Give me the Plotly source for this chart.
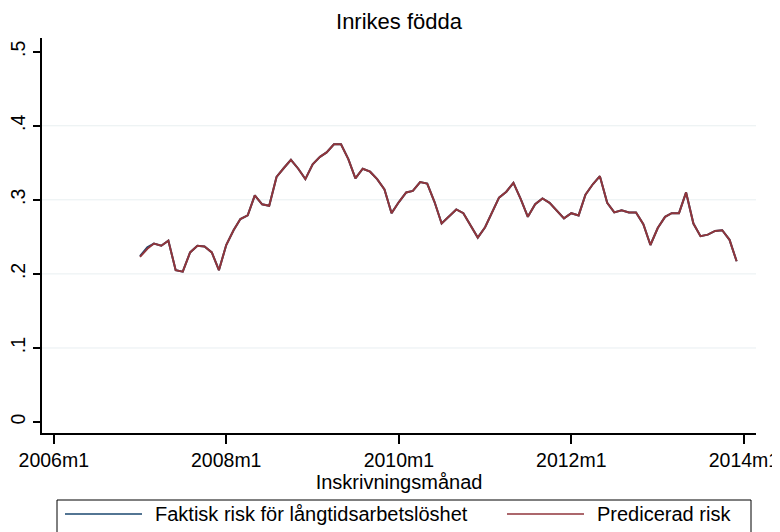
import pandas as pd
import plotly.graph_objects as go

# Monthly data, 2007m1 .. 2013m12
months = pd.date_range("2007-01-01", periods=84, freq="MS")

predicerad = [
    0.223, 0.234, 0.241, 0.238, 0.245, 0.205, 0.203, 0.229, 0.238, 0.237, 0.229, 0.205,
    0.239, 0.259, 0.274, 0.279, 0.306, 0.294, 0.292, 0.331, 0.343, 0.354, 0.342, 0.328,
    0.348, 0.358, 0.364, 0.375, 0.375, 0.355, 0.329, 0.342, 0.338, 0.328, 0.314, 0.282,
    0.297, 0.310, 0.312, 0.324, 0.322, 0.297, 0.268, 0.277, 0.287, 0.282, 0.266, 0.249,
    0.263, 0.285, 0.303, 0.311, 0.323, 0.301, 0.277, 0.294, 0.302, 0.296, 0.286, 0.275,
    0.282, 0.279, 0.307, 0.321, 0.332, 0.296, 0.283, 0.286, 0.283, 0.283, 0.267, 0.239,
    0.262, 0.277, 0.282, 0.282, 0.310, 0.268, 0.251, 0.253, 0.258, 0.259, 0.246, 0.217,
]
faktisk = [
    0.224, 0.236, 0.241, 0.238, 0.245, 0.205, 0.203, 0.229, 0.238, 0.237, 0.229, 0.205,
    0.239, 0.259, 0.274, 0.279, 0.306, 0.294, 0.292, 0.331, 0.343, 0.354, 0.342, 0.328,
    0.348, 0.358, 0.364, 0.375, 0.375, 0.355, 0.329, 0.342, 0.338, 0.328, 0.314, 0.282,
    0.297, 0.310, 0.312, 0.324, 0.322, 0.297, 0.268, 0.277, 0.287, 0.282, 0.266, 0.249,
    0.263, 0.285, 0.303, 0.311, 0.323, 0.301, 0.277, 0.294, 0.302, 0.296, 0.286, 0.275,
    0.282, 0.279, 0.307, 0.321, 0.332, 0.296, 0.283, 0.286, 0.283, 0.283, 0.267, 0.239,
    0.262, 0.277, 0.282, 0.282, 0.310, 0.268, 0.251, 0.253, 0.258, 0.259, 0.246, 0.217,
]

series_names = ["Faktisk risk för långtidsarbetslöshet", "Predicerad risk"]
x_tickvals = ["2006-01-01", "2008-01-01", "2010-01-01", "2012-01-01", "2014-01-01"]
x_ticktext = ["2006m1", "2008m1", "2010m1", "2012m1", "2014m1"]
y_tickvals = [0, 0.1, 0.2, 0.3, 0.4, 0.5]
y_ticktext = ["0", ".1", ".2", ".3", ".4", ".5"]
grid_vals = [0.1, 0.2, 0.3, 0.4]

FONT = "Liberation Sans, Arial, sans-serif"
NAVY = "#1a476f"
MAROON = "#90353b"
colors = [NAVY, MAROON]

# page has an 8px body margin; the figure is cropped by the window like the reference
OFF = 8
W, H = 780, 532
# plot region in page pixels: x 42..756, y 38..433
ML, MT = 42 - OFF, 38 - OFF
MR, MB = W - (756 - OFF), H - (433 - OFF)
PW, PH = W - ML - MR, H - MT - MB


def px_x(px):
    return (px - OFF - ML) / PW


def px_y(py):
    return (H - MB - (py - OFF)) / PH


fig = go.Figure()
for name, vals, col in zip(series_names, [faktisk, predicerad], colors):
    fig.add_trace(go.Scatter(x=months, y=vals, mode="lines", name=name,
                             showlegend=False, line=dict(color=col, width=2)))

for g in grid_vals:
    fig.add_shape(type="line", xref="paper", yref="y", x0=0, x1=1, y0=g, y1=g,
                  line=dict(color="#e8eff1", width=1), layer="below")

# legend box (Stata-style, drawn manually)
fig.add_shape(type="rect", xref="paper", yref="paper",
              x0=px_x(57), x1=px_x(751), y0=px_y(548), y1=px_y(500),
              line=dict(color="black", width=1), fillcolor="white")
leg_line_x = [(65, 142), (507, 584)]
leg_text_x = [153, 595]
leg_y = 514
for name, col, (a, b), tx in zip(series_names, colors, leg_line_x, leg_text_x):
    fig.add_shape(type="line", xref="paper", yref="paper",
                  x0=px_x(a), x1=px_x(b), y0=px_y(leg_y), y1=px_y(leg_y),
                  line=dict(color=col, width=1.5))
    fig.add_annotation(text=name, xref="paper", yref="paper",
                       x=px_x(tx), y=px_y(leg_y), xanchor="left", yanchor="middle",
                       showarrow=False, font=dict(size=20, family=FONT, color="black"))

fig.update_layout(
    width=W, height=H,
    margin=dict(l=ML, r=MR, t=MT, b=MB, autoexpand=False),
    paper_bgcolor="white", plot_bgcolor="white",
    font=dict(family=FONT, color="black", size=19.5),
    title=dict(text="Inrikes födda", x=0.5, xref="paper", xanchor="center",
               y=1 - 13.6 / H, yref="container", yanchor="middle",
               font=dict(size=22, family=FONT, color="black")),
    showlegend=False,
)
fig.update_xaxes(
    range=["2005-11-12", "2014-02-21"], showgrid=False, zeroline=False,
    showline=True, linecolor="black", linewidth=1.5, automargin=False,
    ticks="outside", ticklen=9, tickwidth=1.5, tickcolor="black",
    tickvals=x_tickvals, ticktext=x_ticktext,
    title=dict(text="Inskrivningsmånad", font=dict(size=20), standoff=0),
)
fig.update_yaxes(
    range=[-0.0148, 0.5185], showgrid=False, zeroline=False,
    showline=True, linecolor="black", linewidth=1.5, automargin=False,
    ticks="outside", ticklen=7, tickwidth=1.5, tickcolor="black",
    tickvals=y_tickvals, ticktext=y_ticktext, tickangle=-90, ticklabelstandoff=0,
)

fig.write_html("out.html")
